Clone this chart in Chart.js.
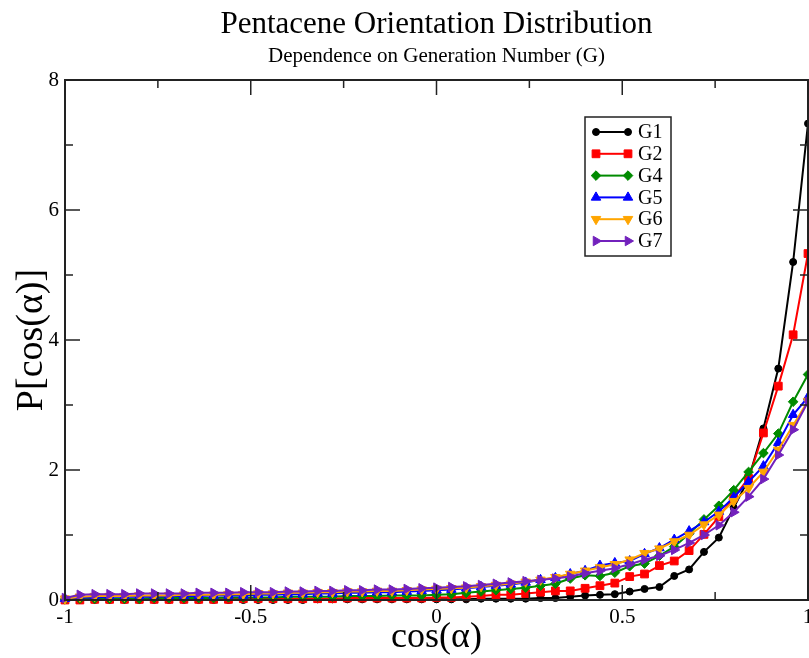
<!DOCTYPE html>
<html>
<head>
<meta charset="utf-8">
<title>Pentacene Orientation Distribution</title>
<script src="https://cdn.jsdelivr.net/npm/chart.js@4.4.1/dist/chart.umd.min.js"></script>
<style>
  html, body { margin: 0; padding: 0; background: #fff; }
  #wrap { width: 809px; height: 658px; }
</style>
</head>
<body>
<div id="wrap"><canvas id="myChart" width="809" height="658"></canvas></div>
<script>
// cos(alpha) bins
const cosA = [-1.00, -0.96, -0.92, -0.88, -0.84, -0.80, -0.76, -0.72, -0.68, -0.64,
  -0.60, -0.56, -0.52, -0.48, -0.44, -0.40, -0.36, -0.32, -0.28, -0.24,
  -0.20, -0.16, -0.12, -0.08, -0.04, 0.00, 0.04, 0.08, 0.12, 0.16,
  0.20, 0.24, 0.28, 0.32, 0.36, 0.40, 0.44, 0.48, 0.52, 0.56,
  0.60, 0.64, 0.68, 0.72, 0.76, 0.80, 0.84, 0.88, 0.92, 0.96, 1.00];

// P[cos(alpha)] per generation
const g1 = [0.00, 0.00, 0.00, 0.00, 0.00, 0.00, 0.00, 0.00, 0.00, 0.00,
  0.00, 0.00, 0.00, 0.00, 0.00, 0.00, 0.00, 0.01, 0.01, 0.01,
  0.01, 0.01, 0.01, 0.01, 0.01, 0.01, 0.01, 0.01, 0.02, 0.02,
  0.02, 0.02, 0.03, 0.03, 0.05, 0.07, 0.08, 0.09, 0.13, 0.17,
  0.20, 0.37, 0.47, 0.74, 0.96, 1.42, 1.86, 2.64, 3.56, 5.20, 7.33];
const g2 = [0.00, 0.00, 0.01, 0.01, 0.01, 0.01, 0.01, 0.01, 0.01, 0.01,
  0.01, 0.01, 0.02, 0.02, 0.02, 0.02, 0.02, 0.02, 0.02, 0.03,
  0.03, 0.03, 0.03, 0.03, 0.03, 0.04, 0.04, 0.05, 0.06, 0.08,
  0.08, 0.10, 0.12, 0.14, 0.14, 0.18, 0.22, 0.26, 0.36, 0.40,
  0.53, 0.60, 0.76, 1.01, 1.28, 1.58, 1.87, 2.57, 3.29, 4.08, 5.33];
const g4 = [0.01, 0.02, 0.02, 0.02, 0.02, 0.02, 0.03, 0.03, 0.03, 0.03,
  0.03, 0.04, 0.04, 0.04, 0.04, 0.05, 0.05, 0.05, 0.05, 0.06,
  0.06, 0.06, 0.07, 0.07, 0.07, 0.08, 0.09, 0.11, 0.13, 0.15,
  0.17, 0.19, 0.22, 0.25, 0.33, 0.38, 0.37, 0.42, 0.52, 0.56,
  0.68, 0.82, 1.02, 1.24, 1.45, 1.69, 1.97, 2.26, 2.56, 3.05, 3.47];
const g5 = [0.02, 0.04, 0.04, 0.05, 0.05, 0.05, 0.05, 0.06, 0.06, 0.06,
  0.07, 0.07, 0.07, 0.08, 0.08, 0.09, 0.09, 0.10, 0.10, 0.11,
  0.11, 0.12, 0.12, 0.13, 0.14, 0.15, 0.16, 0.18, 0.20, 0.22,
  0.24, 0.27, 0.31, 0.34, 0.40, 0.45, 0.53, 0.57, 0.60, 0.71,
  0.80, 0.93, 1.06, 1.20, 1.36, 1.58, 1.82, 2.06, 2.42, 2.85, 3.12];
const g6 = [0.02, 0.05, 0.06, 0.06, 0.06, 0.07, 0.07, 0.07, 0.08, 0.08,
  0.08, 0.09, 0.09, 0.10, 0.10, 0.11, 0.11, 0.12, 0.12, 0.13,
  0.13, 0.14, 0.14, 0.15, 0.16, 0.17, 0.18, 0.19, 0.21, 0.23,
  0.25, 0.28, 0.31, 0.35, 0.40, 0.45, 0.50, 0.55, 0.62, 0.72,
  0.79, 0.90, 1.00, 1.16, 1.31, 1.52, 1.72, 1.97, 2.31, 2.69, 3.06];
const g7 = [0.03, 0.08, 0.09, 0.09, 0.09, 0.10, 0.10, 0.10, 0.10, 0.11,
  0.11, 0.11, 0.12, 0.12, 0.12, 0.13, 0.13, 0.14, 0.14, 0.15,
  0.15, 0.16, 0.16, 0.17, 0.18, 0.19, 0.20, 0.21, 0.23, 0.25,
  0.27, 0.29, 0.31, 0.33, 0.36, 0.41, 0.45, 0.49, 0.55, 0.62,
  0.68, 0.77, 0.88, 1.00, 1.15, 1.35, 1.59, 1.86, 2.23, 2.62, 3.05];

const seriesNames = ['G1', 'G2', 'G4', 'G5', 'G6', 'G7'];
const xMajor = [-1, -0.5, 0, 0.5, 1];
const xMinor = [-0.75, -0.25, 0.25, 0.75];
const yMajor = [0, 2, 4, 6, 8];
const yMinor = [1, 3, 5, 7];

const serif = "'Liberation Serif', 'Times New Roman', serif";
const colors = ['#000000', '#ff0000', '#008b00', '#0000ff', '#ffa500', '#7221bc'];
const styles = [
  { pointStyle: 'circle', pointRadius: 3.5, pointRotation: 0 },
  { pointStyle: 'rect', pointRadius: 5.5, pointRotation: 0 },
  { pointStyle: 'rectRot', pointRadius: 4.8, pointRotation: 0 },
  { pointStyle: 'triangle', pointRadius: 5.5, pointRotation: 0 },
  { pointStyle: 'triangle', pointRadius: 5.5, pointRotation: 180 },
  { pointStyle: 'triangle', pointRadius: 5.5, pointRotation: 90 },
];

function pairs(values) {
  return cosA.map((c, i) => ({ x: c, y: values[i] }));
}

const datasets = [g1, g2, g4, g5, g6, g7].map((vals, i) => ({
  label: seriesNames[i],
  data: pairs(vals),
  borderColor: colors[i],
  backgroundColor: colors[i],
  pointBackgroundColor: colors[i],
  pointBorderColor: colors[i],
  pointBorderWidth: 1,
  borderWidth: 2,
  tension: 0,
  clip: false,
  order: 6 - i, // later generations drawn on top
  ...styles[i],
}));

// frame with inward ticks on all four sides
const frameTicks = {
  id: 'frameTicks',
  afterDatasetsDraw(chart) {
    const { ctx, chartArea: a, scales: { x, y } } = chart;
    ctx.save();
    ctx.strokeStyle = '#222';
    ctx.lineWidth = 2;
    ctx.strokeRect(a.left, a.top, a.right - a.left, a.bottom - a.top);
    ctx.lineWidth = 1.5;
    ctx.beginPath();
    const xt = (v, len) => {
      const px = x.getPixelForValue(v);
      ctx.moveTo(px, a.bottom); ctx.lineTo(px, a.bottom - len);
      ctx.moveTo(px, a.top); ctx.lineTo(px, a.top + len);
    };
    const yt = (v, len) => {
      const py = y.getPixelForValue(v);
      ctx.moveTo(a.left, py); ctx.lineTo(a.left + len, py);
      ctx.moveTo(a.right, py); ctx.lineTo(a.right - len, py);
    };
    xMajor.forEach(v => xt(v, 15));
    xMinor.forEach(v => xt(v, 8));
    yMajor.forEach(v => yt(v, 15));
    yMinor.forEach(v => yt(v, 8));
    ctx.stroke();
    ctx.restore();
  }
};

// boxed legend in the upper right of the plot, line + markers
const boxLegend = {
  id: 'boxLegend',
  afterDraw(chart) {
    const ctx = chart.ctx;
    const left = 585, top = 117, w = 86, h = 139;
    ctx.save();
    ctx.fillStyle = '#fff';
    ctx.fillRect(left, top, w, h);
    ctx.strokeStyle = '#222';
    ctx.lineWidth = 1.5;
    ctx.strokeRect(left, top, w, h);
    ctx.font = '20px ' + serif;
    ctx.textBaseline = 'middle';
    chart.data.datasets.forEach((ds, i) => {
      const yy = top + 15 + i * 21.8;
      const x0 = left + 11, x1 = left + 43;
      ctx.strokeStyle = ds.borderColor;
      ctx.fillStyle = ds.borderColor;
      ctx.lineWidth = 2;
      ctx.beginPath();
      ctx.moveTo(x0, yy); ctx.lineTo(x1, yy);
      ctx.stroke();
      const opts = { pointStyle: ds.pointStyle, radius: ds.pointRadius, rotation: ds.pointRotation, borderWidth: 1 };
      ctx.lineWidth = 1;
      Chart.helpers.drawPoint(ctx, opts, x0, yy);
      Chart.helpers.drawPoint(ctx, opts, x1, yy);
      ctx.fillStyle = '#000';
      ctx.fillText(ds.label, left + 53, yy + 1);
    });
    ctx.restore();
  }
};

const ctx = document.getElementById('myChart');
let myChart = new Chart(ctx, {
  type: 'line',
  data: { datasets: datasets },
  options: {
    responsive: false,
    animation: false,
    layout: { autoPadding: false, padding: { left: 0, right: 1, top: 0, bottom: 0 } },
    plugins: {
      legend: { display: false },
      tooltip: { enabled: false },
      title: {
        display: true,
        fullSize: false,
        text: 'Pentacene Orientation Distribution',
        color: '#000',
        font: { family: serif, size: 31, weight: 'normal', lineHeight: 1.1 },
        padding: { top: 8, bottom: 3 },
      },
      subtitle: {
        display: true,
        fullSize: false,
        text: 'Dependence on Generation Number (G)',
        color: '#000',
        font: { family: serif, size: 21, weight: 'normal', lineHeight: 1.1 },
        padding: { top: 0, bottom: 11.8 },
      },
    },
    scales: {
      x: {
        type: 'linear',
        min: -1,
        max: 1,
        grid: { display: false, drawTicks: false },
        border: { display: false },
        ticks: {
          stepSize: 0.5,
          color: '#000',
          padding: 5,
          maxRotation: 0,
          font: { family: serif, size: 21 },
          callback: v => String(v),
        },
        title: {
          display: true,
          text: 'cos(α)',
          color: '#000',
          font: { family: serif, size: 36, lineHeight: 1 },
          padding: { top: 0, bottom: 2 },
        },
        afterFit(scale) {
          scale.height = 58;
          scale.paddingLeft = 0;
          scale.paddingRight = 0;
        },
      },
      y: {
        min: 0,
        max: 8,
        grid: { display: false, drawTicks: false },
        border: { display: false },
        ticks: {
          stepSize: 2,
          color: '#000',
          padding: 6,
          font: { family: serif, size: 21 },
        },
        title: {
          display: true,
          text: 'P[cos(α)]',
          color: '#000',
          font: { family: serif, size: 38, lineHeight: 1 },
          padding: { top: 13, bottom: 0 },
        },
        afterFit(scale) {
          scale.width = 65;
          scale.paddingTop = 0;
          scale.paddingBottom = 0;
        },
      },
    },
  },
  plugins: [frameTicks, boxLegend],
});
</script>
</body>
</html>
